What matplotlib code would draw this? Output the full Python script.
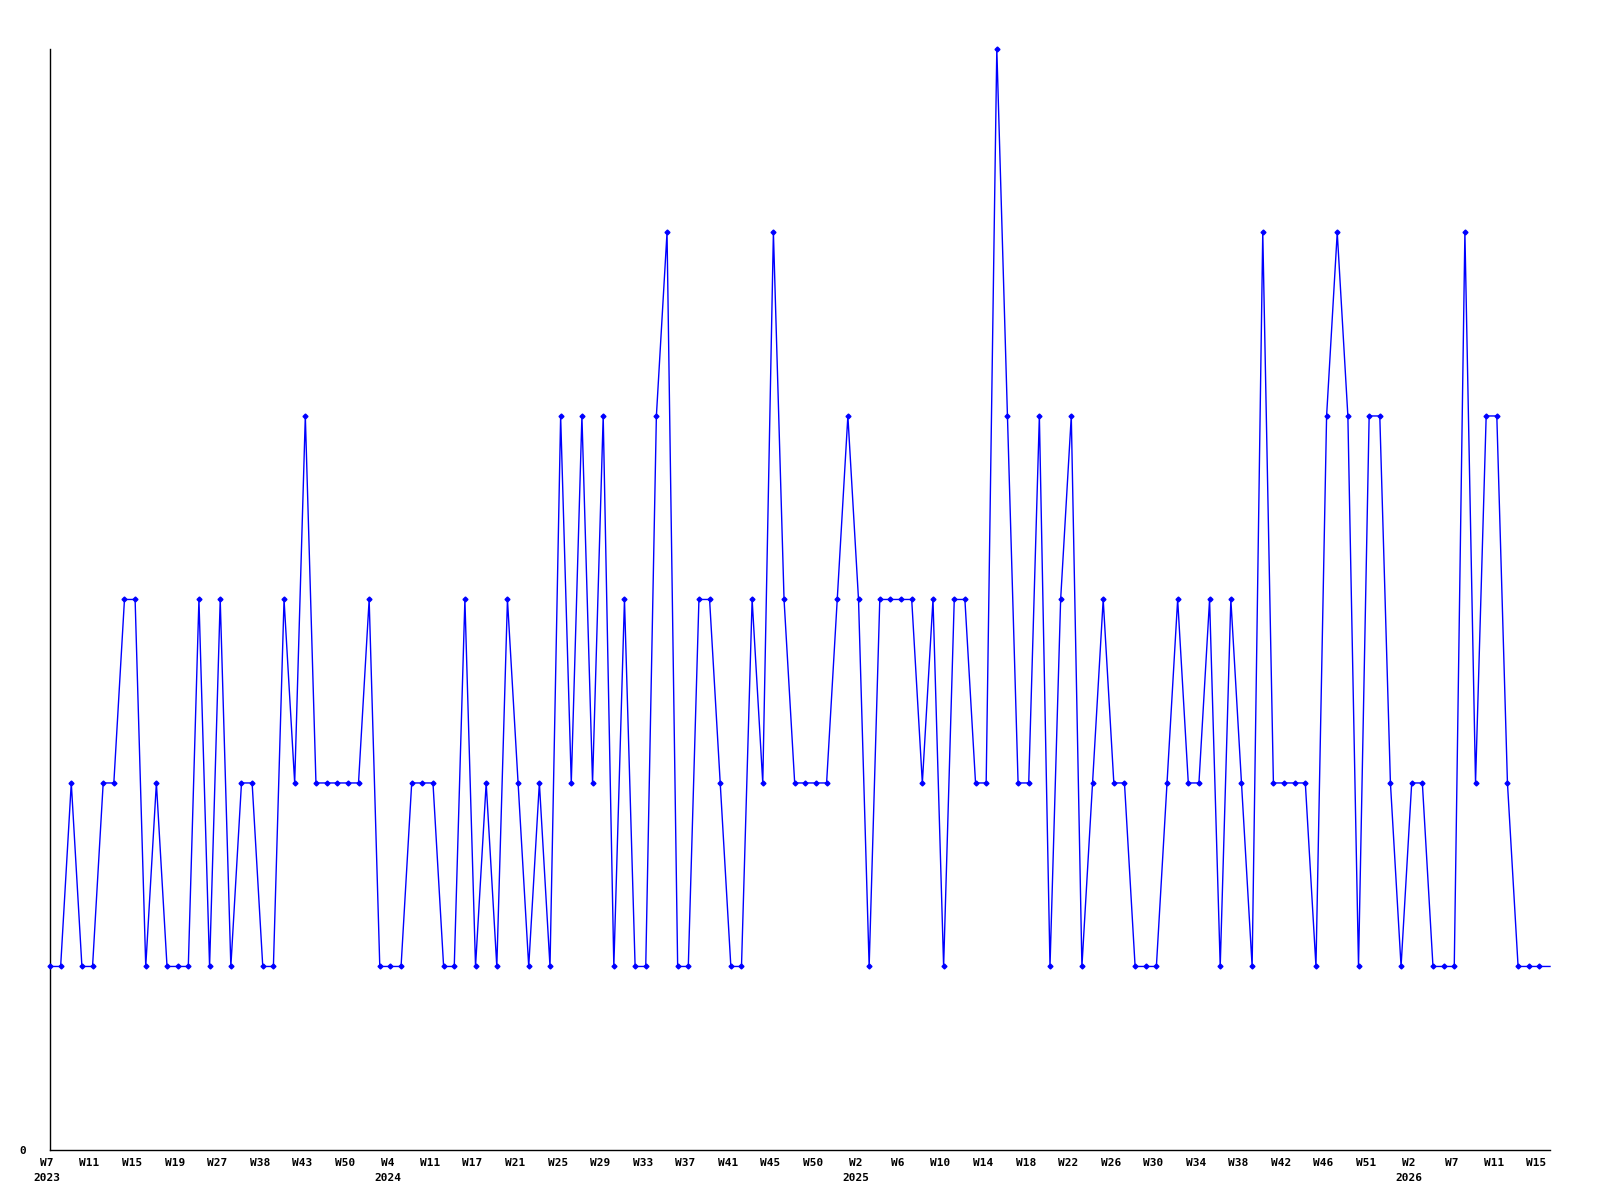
import matplotlib
matplotlib.use("Agg")
import matplotlib.pyplot as plt
from matplotlib.transforms import ScaledTranslation

# weekly values, one per week with data
values = [
    1, 1, 2, 1, 1, 2, 2, 3, 3, 1, 2, 1, 1, 1, 3, 1, 3, 1, 2, 2,
    1, 1, 3, 2, 4, 2, 2, 2, 2, 2, 3, 1, 1, 1, 2, 2, 2, 1, 1, 3,
    1, 2, 1, 3, 2, 1, 2, 1, 4, 2, 4, 2, 4, 1, 3, 1, 1, 4, 5, 1,
    1, 3, 3, 2, 1, 1, 3, 2, 5, 3, 2, 2, 2, 2, 3, 4, 3, 1, 3, 3,
    3, 3, 2, 3, 1, 3, 3, 2, 2, 6, 4, 2, 2, 4, 1, 3, 4, 1, 2, 3,
    2, 2, 1, 1, 1, 2, 3, 2, 2, 3, 1, 3, 2, 1, 5, 2, 2, 2, 2, 1,
    4, 5, 4, 1, 4, 4, 2, 1, 2, 2, 1, 1, 1, 5, 2, 4, 4, 2, 1, 1,
    1, 1,
]

# labels shown on every 4th point
tick_weeks = [
    "W7", "W11", "W15", "W19", "W27", "W38", "W43", "W50",
    "W4", "W11", "W17", "W21", "W25", "W29", "W33", "W37", "W41", "W45", "W50",
    "W2", "W6", "W10", "W14", "W18", "W22", "W26", "W30", "W34", "W38", "W42", "W46", "W51",
    "W2", "W7", "W11", "W15",
]
tick_years = [
    "2023", "", "", "", "", "", "", "",
    "2024", "", "", "", "", "", "", "", "", "", "",
    "2025", "", "", "", "", "", "", "", "", "", "", "", "",
    "2026", "", "", "",
]
tick_step = 4

fig = plt.figure(figsize=(16, 12), dpi=100)
ax = fig.add_axes([0.03125, 0.0417, 0.9375, 0.9175])

x = list(range(len(values)))
ax.plot(
    x, values,
    color="#0000ff", lw=1.0,
    marker="D", markersize=2.5, markerfacecolor="#0000ff", markeredgecolor="#0000ff",
    markevery=list(range(len(values) - 1)),
    clip_on=False, zorder=3,
)

ax.set_xlim(0, len(values) - 1)
ax.set_ylim(0, 6)

ticks = list(range(0, len(values), tick_step))[: len(tick_weeks)]
labels = [w if not y else w + "\n" + y for w, y in zip(tick_weeks, tick_years)]
ax.set_xticks(ticks)
ax.set_xticklabels(labels, family="DejaVu Sans Mono", fontweight="bold",
                   fontsize=8, linespacing=1.6, va="top", ha="center")
ax.set_yticks([0])
ax.set_yticklabels(["0"], family="DejaVu Sans Mono", fontweight="bold", fontsize=8)
ax.tick_params(axis="x", length=0, pad=6)
ax.tick_params(axis="y", length=0, pad=17)

# labels sit a little left of their points in the original
shift = ScaledTranslation(-3 / 100, 0, fig.dpi_scale_trans)
for lab in ax.get_xticklabels():
    lab.set_transform(lab.get_transform() + shift)

for side in ["top", "right"]:
    ax.spines[side].set_visible(False)
for side in ["left", "bottom"]:
    ax.spines[side].set_color("black")
    ax.spines[side].set_linewidth(1.0)

fig.savefig("out.png", dpi=100, facecolor="white")
